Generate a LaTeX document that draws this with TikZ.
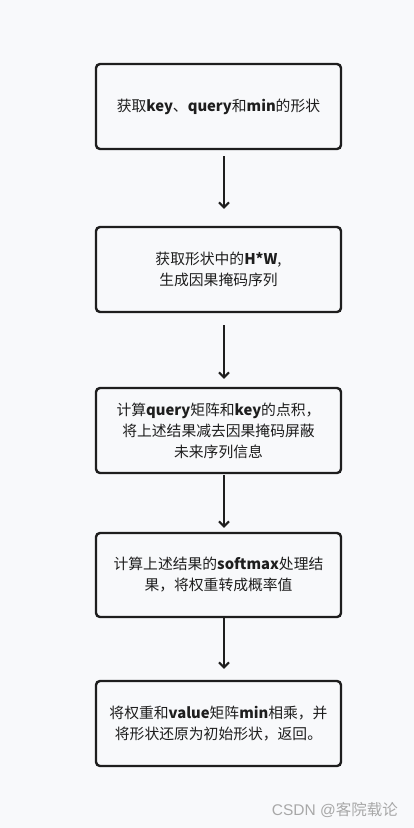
\documentclass[tikz,border=0pt]{standalone}
\usepackage{fontspec}
\setmainfont{Noto Sans CJK SC}
\newfontfamily\marksf{Liberation Sans}
\usetikzlibrary{arrows.meta,positioning}
\definecolor{ink}{HTML}{1E1E1E}
\definecolor{paper}{HTML}{F8F9FB}
\definecolor{mark}{HTML}{A8A8A8}
\tikzset{box/.style={draw=ink,rounded corners=4pt,line width=2.4pt,align=center,minimum width=245pt,minimum height=85pt,fill=paper,text=ink,font=\fontsize{14.8}{21}\selectfont},arr/.style={-{Straight Barb[length=5pt,width=10pt]},line width=2pt,ink}}

\begin{document}
\begin{tikzpicture}[x=1pt,y=1pt,inner sep=0pt]
\fill[paper] (0,0) rectangle (414,-828);
\useasboundingbox (0,0) rectangle (414,-828);
\node[box] (shape) at (218.5,-106.5) {获取\textbf{key}、\textbf{query}和\textbf{min}的形状};
\node[box,below=75.6pt of shape] (mask) {获取形状中的\textbf{H*W},\\生成因果掩码序列};
\node[box,below=73.6pt of mask] (score) {计算\textbf{query}矩阵和\textbf{key}的点积，\\将上述结果减去因果掩码屏蔽\\未来序列信息};
\node[box,below=57.6pt of score,minimum height=84pt] (prob) {计算上述结果的\textbf{softmax}处理结\\果，将权重转成概率值};
\node[box,below=61.6pt of prob] (out) {将权重和\textbf{value}矩阵\textbf{min}相乘，并\\将形状还原为初始形状，返回。};
\draw[arr,shorten <=6pt,shorten >=17pt] ([xshift=5.5pt]shape.south) -- ([xshift=5.5pt]mask.north);
\draw[arr,shorten <=12pt,shorten >=8pt] ([xshift=5.5pt]mask.south) -- ([xshift=5.5pt]score.north);
\draw[arr,shorten <=1pt,shorten >=4pt] ([xshift=5.5pt]score.south) -- ([xshift=5.5pt]prob.north);
\draw[arr,shorten >=11pt] ([xshift=5.5pt]prob.south) -- ([xshift=5.5pt]out.north);
\node[anchor=east,text=mark,font=\fontsize{15.5}{17}\selectfont] (sign) at (398,-810) {{\marksf CSDN @}客院载论};
\end{tikzpicture}
\end{document}
